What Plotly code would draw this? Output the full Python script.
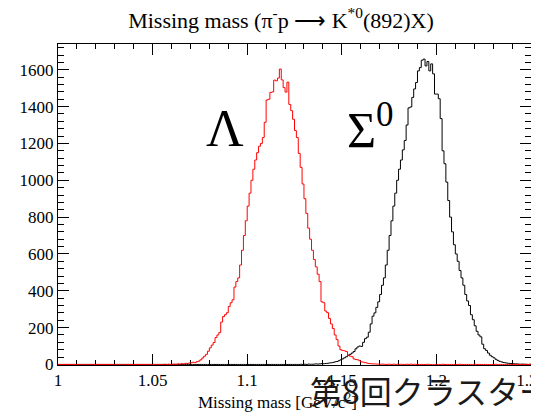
import plotly.graph_objects as go

# ---------------- data ----------------
x_min = 1.0
x_max = 1.25
bin_width = 0.001

lambda_first_bin = 1.055
lambda_counts = [
    0, 1, 0, 1, 0, 1, 2, 1, 3, 2,            # 1.055-1.064
    4, 3, 6, 5, 8, 9, 12, 10, 15, 18,        # 1.065-1.074
    25, 35, 45, 55, 72, 90, 105, 119, 146, 160,   # 1.075-1.084
    173, 230, 260, 270, 281, 315, 335, 351, 420, 450,  # 1.085-1.094
    470, 540, 620, 700, 780, 860, 930, 1000, 1060, 1110,  # 1.095-1.104
    1150, 1185, 1200, 1232, 1315, 1436, 1440, 1477, 1480, 1544,  # 1.105-1.114
    1540, 1555, 1604, 1545, 1503, 1479, 1533, 1412, 1378, 1331,  # 1.115-1.124
    1270, 1232, 1146, 1070, 980, 900, 820, 740, 680, 620,  # 1.125-1.134
    570, 530, 490, 450, 340, 335, 290, 281, 250, 220,  # 1.135-1.144
    195, 160, 135, 100, 80, 76, 74, 70, 50, 45,  # 1.145-1.154
    42, 30, 27, 25, 20, 14, 12, 10, 7, 5,    # 1.155-1.164
    4, 3, 3, 2, 2, 1, 2, 1, 0, 1,            # 1.165-1.174
    1, 0, 2, 0, 1, 0, 1, 0, 0, 1,            # 1.175-1.184
    0, 2, 0, 1, 0, 0, 0, 0, 0, 0,            # 1.185-1.194
    1, 0, 0, 0, 0, 0, 0, 0, 1, 0,            # 1.195-1.204
    0, 0, 0, 0, 0, 0, 0, 1, 0, 0,            # 1.205-1.214
    0, 0, 0, 0, 0, 1, 0, 0, 0, 0,            # 1.215-1.224
    0, 0, 0, 0, 0, 0, 1, 0, 0, 0,            # 1.225-1.234
    0, 0, 0, 0, 0, 1, 0, 0, 0, 0,            # 1.235-1.244
    0, 0, 0, 0, 0,                           # 1.245-1.249
]

sigma_first_bin = 1.128
sigma_counts = [
    1, 0, 1, 0, 2, 1, 1, 2, 3, 2,            # 1.128-1.137
    3, 4, 4, 5, 6, 8, 9, 11, 14, 16,         # 1.138-1.147
    20, 25, 30, 36, 42, 50, 55, 62, 70, 85,  # 1.148-1.157
    95, 100, 98, 120, 140, 148, 175, 220, 262, 280,  # 1.158-1.167
    310, 340, 380, 430, 470, 540, 620, 700, 780, 860,  # 1.168-1.177
    930, 1000, 1060, 1110, 1165, 1216, 1300, 1393, 1398, 1450,  # 1.178-1.187
    1496, 1531, 1594, 1612, 1652, 1658, 1621, 1645, 1594, 1632,  # 1.188-1.197
    1578, 1468, 1468, 1443, 1335, 1160, 1090, 990, 890, 800,  # 1.198-1.207
    720, 650, 600, 560, 510, 470, 430, 380, 345, 320,  # 1.208-1.217
    270, 243, 210, 180, 160, 150, 110, 85, 76, 62,  # 1.218-1.227
    50, 42, 36, 28, 22, 17, 14, 11, 9, 7,    # 1.228-1.237
    6, 5, 4, 3, 3, 2, 1, 2, 1, 1,            # 1.238-1.247
    0, 1,                                    # 1.248-1.249
]

x_tick_step = 0.05
y_tick_step = 200
y_max = 1740

title_text = "Missing mass (π<sup>-</sup>p ⟶ K<sup>*0</sup>(892)X)"
x_title = "Missing mass [GeV/c<sup>2</sup>]"
label_lambda = "Λ"
label_sigma = "Σ<sup>0</sup>"
overlay_text = "第8回クラスター"

# ---------------- build step outlines ----------------
n_bins = int(round((x_max - x_min) / bin_width))
edges = [x_min + i * bin_width for i in range(n_bins + 1)]


def full_hist(first_bin, counts):
    vals = [0] * n_bins
    start = int(round((first_bin - x_min) / bin_width))
    for k, c in enumerate(counts):
        if 0 <= start + k < n_bins:
            vals[start + k] = c
    xs = edges[:-1] + [edges[-1]]
    ys = vals + [vals[-1]]
    return xs, ys


xs_l, ys_l = full_hist(lambda_first_bin, lambda_counts)
xs_s, ys_s = full_hist(sigma_first_bin, sigma_counts)

serif = "Liberation Serif, Times New Roman, serif"

fig = go.Figure()
fig.add_trace(go.Scatter(x=xs_s, y=ys_s, mode="lines", line=dict(color="#000000", width=1, shape="hv"),
                         showlegend=False, hoverinfo="skip"))
fig.add_trace(go.Scatter(x=xs_l, y=ys_l, mode="lines", line=dict(color="#ff0000", width=1, shape="hv"),
                         showlegend=False, hoverinfo="skip"))

# page body has an 8px default margin: compensate so the window pixels match
OFF = 8
WIN_W, WIN_H = 539, 418
PLOT_L, PLOT_R, PLOT_T, PLOT_B = 58, 531, 44, 365   # window pixels of the frame
W, H = WIN_W - OFF, WIN_H - OFF
L = PLOT_L - OFF
T = PLOT_T - OFF
R = W - (PLOT_R - OFF)
B = H - (PLOT_B - OFF)
pw, ph = PLOT_R - PLOT_L, PLOT_B - PLOT_T


def px2paper(px, py):
    return (px - PLOT_L) / pw, (PLOT_B - py) / ph


annotations = []
ax_, ay_ = px2paper(225, 128)
annotations.append(dict(text=label_lambda, x=ax_, y=ay_, xref="paper", yref="paper", showarrow=False,
                        font=dict(family=serif, size=52, color="black"), xanchor="center", yanchor="middle"))
ax_, ay_ = px2paper(370, 126)
annotations.append(dict(text=label_sigma, x=ax_, y=ay_, xref="paper", yref="paper", showarrow=False,
                        font=dict(family=serif, size=50, color="black"), xanchor="center", yanchor="middle"))
ax_, ay_ = px2paper(277, 401)
annotations.append(dict(text=x_title, x=ax_, y=ay_, xref="paper", yref="paper", showarrow=False,
                        font=dict(family=serif, size=17, color="black"), xanchor="center", yanchor="middle"))
ax_, ay_ = px2paper(308, 390)
annotations.append(dict(text=overlay_text, x=ax_, y=ay_, xref="paper", yref="paper", showarrow=False,
                        font=dict(family="Noto Sans CJK JP", size=32, color="#1a1a1a"),
                        xanchor="left", yanchor="middle"))

axis_common = dict(
    showline=True, linecolor="black", linewidth=1, mirror="ticks",
    ticks="inside", ticklen=11, tickwidth=1, tickcolor="black",
    showgrid=False, zeroline=False,
    tickfont=dict(family=serif, size=17, color="black"),
    layer="below traces", automargin=False,
)

fig.update_layout(
    width=W, height=H,
    margin=dict(l=L, r=R, t=T, b=B, pad=0, autoexpand=False),
    paper_bgcolor="white", plot_bgcolor="white",
    title=dict(text=title_text, x=(281 - OFF) / W, xanchor="center", y=1 - (20 - OFF) / H, yanchor="middle",
               font=dict(family=serif, size=22, color="black")),
    xaxis=dict(range=[x_min, x_max], tickmode="linear", tick0=x_min, dtick=x_tick_step,
               minor=dict(dtick=0.01, ticklen=5, tickcolor="black", ticks="inside"),
               ticklabeloverflow="allow", **axis_common),
    yaxis=dict(range=[-3, y_max], tickmode="linear", tick0=0, dtick=y_tick_step,
               minor=dict(dtick=40, ticklen=6, tickcolor="black", ticks="inside"),
               ticklabeloverflow="allow", **axis_common),
    annotations=annotations,
)

fig.write_html("out.html")
